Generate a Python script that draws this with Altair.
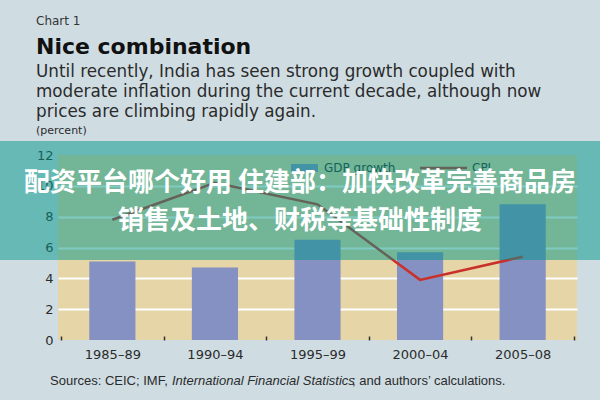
import altair as alt
import pandas as pd

# ---------------- data ----------------
periods = ["1985–89", "1990–94", "1995–99", "2000–04", "2005–08"]
gdp_growth = [5.1, 4.7, 6.5, 5.7, 8.8]
cpi = [7.8, 10.2, 8.8, 3.9, 5.4]
y_ticks = [0, 2, 4, 6, 8, 10, 12]

chart_label = "Chart 1"
title_text = "Nice combination"
subtitle_lines = [
    "Until recently, India has seen strong growth coupled with",
    "moderate inflation during the current decade, although now",
    "prices are climbing rapidly again.",
]
unit_label = "(percent)"
source_parts = ["Sources: CEIC; IMF,", "International Financial Statistics", "; and authors’ calculations."]
banner_lines = ["配资平台哪个好用 住建部：加快改革完善商品房", "销售及土地、财税等基础性制度"]
legend_labels = ["GDP growth", "CPI"]

df = pd.DataFrame({"period": periods, "gdp": gdp_growth, "cpi": cpi})

# ---------------- style ----------------
W, H = 519, 185
BG = "#cfdde3"
PLOT_BG = "#e5d5a7"
BAR = "#8590c3"
LINE = "#c9302a"
TXT = "#2b2b2b"
FONT = "DejaVu Sans"

x_scale = alt.Scale(domain=periods, paddingInner=0, paddingOuter=0.03)
y_scale = alt.Scale(domain=[0, 12], nice=False)

x_axis = alt.Axis(
    title=None, labelAngle=0, domain=False, grid=False,
    ticks=True, tickSize=4, tickWidth=1.5, tickColor="#333333", tickBand="extent",
    offset=-4, labelPadding=8, labelFont=FONT, labelFontSize=13, labelColor=TXT,
)
y_axis = alt.Axis(
    title=None, values=y_ticks, domain=False, ticks=False, labelPadding=5,
    labelFont=FONT, labelFontSize=13, labelColor=TXT,
    grid=True, gridColor="white", gridWidth=2,
    gridOpacity={"condition": {"test": "datum.value === 0 || datum.value === 12", "value": 0}, "value": 1},
)

base = alt.Chart(df)

bars = base.mark_bar(color=BAR, width=alt.RelativeBandSize(0.45)).encode(
    x=alt.X("period:N", scale=x_scale, sort=periods, axis=x_axis),
    y=alt.Y("gdp:Q", scale=y_scale, axis=y_axis),
)
line = base.mark_line(color=LINE, strokeWidth=2.5).encode(
    x=alt.X("period:N", scale=x_scale, sort=periods, axis=x_axis),
    y=alt.Y("cpi:Q", scale=y_scale, axis=y_axis),
)


def txt(s, x, y, size, weight="normal", color=TXT, font=FONT, align="left", style="normal"):
    return alt.Chart(pd.DataFrame({"t": [s]})).mark_text(
        align=align, baseline="middle", font=font, fontSize=size,
        fontWeight=weight, color=color, fontStyle=style,
    ).encode(text="t:N", x=alt.value(x), y=alt.value(y))


one = pd.DataFrame({"k": [0]})

# legend (drawn before the overlay so it gets tinted like in the reference)
leg_rect = alt.Chart(one).mark_rect(color=BAR).encode(
    x=alt.value(233), x2=alt.value(260), y=alt.value(9), y2=alt.value(17))
leg_gdp = txt(legend_labels[0], 266, 13, 12)
leg_rule = alt.Chart(one).mark_rule(color=LINE, strokeWidth=2.5).encode(
    x=alt.value(362), x2=alt.value(409), y=alt.value(13))
leg_cpi = txt(legend_labels[1], 414, 13, 12)

overlay = alt.Chart(one).mark_rect(color="rgb(0,149,135)", opacity=0.5).encode(
    x=alt.value(-58), x2=alt.value(542), y=alt.value(-14), y2=alt.value(105))

banner1 = txt(banner_lines[0], 242, 28, 26, "bold", "white", "Noto Sans CJK SC", "center")
banner2 = txt(banner_lines[1], 242, 66, 26, "bold", "white", "Noto Sans CJK SC", "center")

hdr = [
    txt(chart_label, -22, -134, 12, color="#333333"),
    txt(title_text, -22, -108, 22, "bold", "#111111"),
    txt(subtitle_lines[0], -22, -83, 16.8),
    txt(subtitle_lines[1], -22, -63, 16.8),
    txt(subtitle_lines[2], -22, -43, 16.8),
    txt(unit_label, -22, -24, 11),
]

src = [
    txt(source_parts[0], -8, 226, 13, font="Liberation Sans"),
    txt(source_parts[1], 114, 226, 13, font="Liberation Sans", style="italic"),
    txt(source_parts[2], 294, 226, 13, font="Liberation Sans"),
]

chart = alt.layer(
    bars, line, leg_rect, leg_gdp, leg_rule, leg_cpi, overlay, banner1, banner2, *hdr, *src
).properties(
    width=W, height=H,
    padding={"left": 58, "top": 155, "right": 23, "bottom": 60},
    autosize=alt.AutoSizeParams(type="none"),
    background=BG,
).configure_view(fill=PLOT_BG, strokeWidth=0)

chart.save("out.html", embed_options={"renderer": "svg", "actions": False})
